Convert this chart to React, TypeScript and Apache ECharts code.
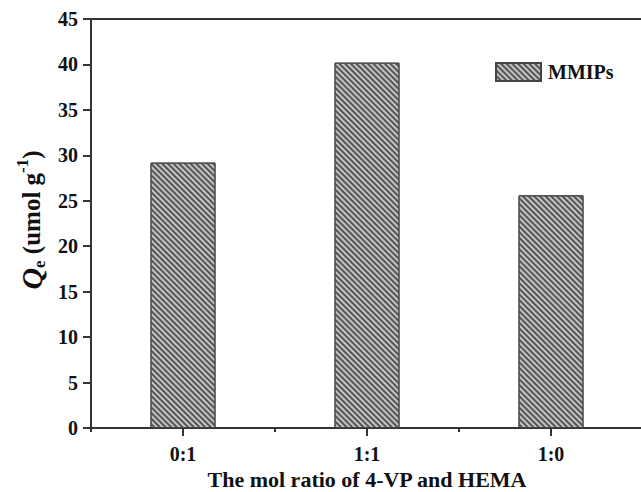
import React, { useEffect, useRef } from "react";
import * as echarts from "echarts";

const categories = ["0:1", "1:1", "1:0"];
const seriesName = "MMIPs";
const values = [29.2, 40.2, 25.6];
const yMin = 0;
const yMax = 45;
const yStep = 5;
const xTitle = "The mol ratio of 4-VP and HEMA";

const FONT = "'Liberation Serif', 'Times New Roman', serif";

export default function App() {
  const ref = useRef<HTMLDivElement>(null);
  useEffect(() => {
    if (!ref.current) return;
    const chart = echarts.init(ref.current, undefined, { renderer: "svg" });
    const decal = {
      symbol: "rect",
      symbolSize: 1,
      color: "#555555",
      dashArrayX: [1, 0],
      dashArrayY: [1.3, 1.5],
      rotation: Math.PI / 4,
    };
    chart.setOption({
      animation: false,
      backgroundColor: "#ffffff",
      aria: { enabled: true, decal: { show: true } },
      grid: {
        left: 91,
        top: 19,
        width: 552,
        height: 409,
        containLabel: false,
        outerBoundsMode: "none",
        show: true,
        borderColor: "#333",
        borderWidth: 2,
        backgroundColor: "transparent",
      },
      legend: {
        left: 495,
        top: 62,
        itemWidth: 45,
        itemHeight: 18,
        itemGap: 10,
        padding: 0,
        textStyle: {
          fontFamily: FONT,
          fontWeight: "bold",
          fontSize: 20,
          color: "#111",
          padding: [0, 0, 0, 2],
        },
        data: [{ name: seriesName, icon: "rect" }],
      },
      xAxis: [
        {
          type: "category",
          data: categories,
          position: "bottom",
          axisLine: { show: true, lineStyle: { color: "#333", width: 2 } },
          axisTick: { show: true, alignWithLabel: true, length: 8, lineStyle: { color: "#333", width: 2 } },
          axisLabel: {
            margin: 16,
            fontFamily: FONT,
            fontWeight: "bold",
            fontSize: 20,
            color: "#111",
          },
          name: xTitle,
          nameLocation: "middle",
          nameGap: 39,
          nameTextStyle: {
            fontFamily: FONT,
            fontWeight: "bold",
            fontSize: 22,
            color: "#111",
          },
        },
        {
          type: "category",
          data: categories,
          position: "bottom",
          axisLine: { show: false },
          axisTick: { show: true, alignWithLabel: false, length: 4, lineStyle: { color: "#333", width: 2 } },
          axisLabel: { show: false },
        },
      ],
      yAxis: {
        type: "value",
        min: yMin,
        max: yMax,
        interval: yStep,
        axisLine: { show: true, lineStyle: { color: "#333", width: 2 } },
        axisTick: { show: true, length: 8, lineStyle: { color: "#333", width: 2 } },
        splitLine: { show: false },
        axisLabel: {
          margin: 13,
          fontFamily: FONT,
          fontWeight: "bold",
          fontSize: 20,
          color: "#111",
        },
      },
      graphic: [
        {
          type: "text",
          x: 31,
          y: 220,
          rotation: Math.PI / 2,
          style: {
            text: "{q|Q}{sub|e}{n| (umol g}{sup|-1}{n|)}",
            align: "center",
            verticalAlign: "middle",
            fill: "#111",
            rich: {
              q: { fontFamily: FONT, fontWeight: "bold", fontStyle: "italic", fontSize: 30, lineHeight: 34, fill: "#111" },
              sub: { fontFamily: FONT, fontWeight: "bold", fontSize: 17, verticalAlign: "bottom", lineHeight: 20, fill: "#111" },
              n: { fontFamily: FONT, fontWeight: "bold", fontSize: 25, lineHeight: 34, fill: "#111" },
              sup: { fontFamily: FONT, fontWeight: "bold", fontSize: 17, verticalAlign: "top", lineHeight: 20, fill: "#111" },
            },
          },
        },
      ],
      series: [
        {
          name: seriesName,
          type: "bar",
          data: values,
          barWidth: 65,
          itemStyle: {
            color: "#c4c4c4",
            borderColor: "#444",
            borderWidth: 1,
            decal,
          },
        },
      ],
    });
    return () => chart.dispose();
  }, []);
  return (
    <div
      ref={ref}
      style={{ position: "absolute", left: 0, top: 0, width: 641, height: 492 }}
    />
  );
}
